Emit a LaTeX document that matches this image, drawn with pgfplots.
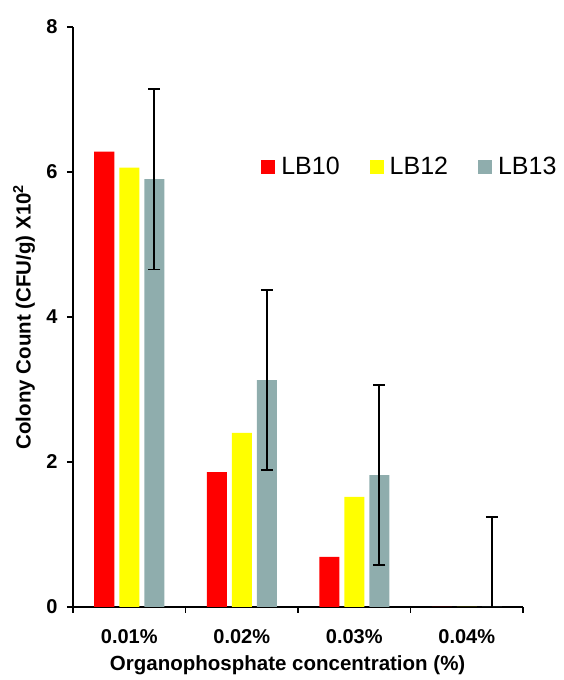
\documentclass[border=0pt]{standalone}
\usepackage{pgfplots}
\pgfplotsset{compat=1.18}
\usepackage{fontspec}
\setmainfont{Liberation Sans}
\definecolor{cRed}{RGB}{255,0,0}
\definecolor{cYel}{RGB}{255,255,0}
\definecolor{cTeal}{RGB}{143,173,173}
\pgfplotsset{mylegend/.style={legend image code/.code={\fill[##1] (0pt,-7pt) rectangle (14pt,7pt);}}}
\begin{document}
\begin{tikzpicture}
\begin{axis}[
  scale only axis,
  width=450pt, height=580pt,
  xmin=-0.5, xmax=3.5, ymin=0, ymax=8,
  ybar=5pt, bar width=20pt,
  axis x line=bottom, axis y line=left,
  axis line style={line width=1.8pt, -},
  every tick/.style={line width=1.6pt, black},
  tick align=outside,
  major tick length=6pt,
  ytick={0,2,4,6,8},
  xtick={-0.5,0.5,1.5,2.5,3.5},
  xticklabels={},
  extra x ticks={0,1,2,3},
  extra x tick labels={0.01\%,0.02\%,0.03\%,0.04\%},
  extra x tick style={major tick length=0pt, tick style={draw=none}},
  /pgf/number format/assume math mode=true,
  ticklabel style={font=\fontsize{20}{22}\selectfont\bfseries},
  yticklabel style={xshift=-6pt},
  xticklabel style={yshift=-19pt},
  xlabel={Organophosphate concentration (\%)},
  ylabel={Colony Count (CFU/g) X10\textsuperscript{2}},
  every axis x label/.style={at={(axis description cs:0.477,-0.101)}, anchor=center,
    font=\fontsize{20.5}{22}\selectfont\bfseries},
  every axis y label/.style={at={(axis description cs:-0.109,0.5)}, anchor=center, rotate=90,
    font=\fontsize{20.5}{22}\selectfont\bfseries},
  legend columns=3,
  legend style={draw=none, fill=none, inner sep=0pt,
    font=\fontsize{25}{27}\selectfont,
    at={(axis description cs:0.418,0.7586)}, anchor=west,
    /tikz/every odd column/.append style={column sep=4pt},
    /tikz/every even column/.append style={column sep=28pt}},
]
\addplot[fill=cRed, draw=none, mylegend] coordinates {(0,6.28) (1,1.86) (2,0.69) (3,0)};
\addplot[fill=cYel, draw=none, mylegend] coordinates {(0,6.06) (1,2.40) (2,1.52) (3,0)};
\addplot[fill=cTeal, draw=none, mylegend,
  error bars/.cd, y dir=both, y explicit,
  error bar style={line width=1.7pt, black},
  error mark options={rotate=90, line width=1.7pt, black, mark size=6pt}]
  coordinates {(0,5.90) +- (0,1.245) (1,3.13) +- (0,1.24) (2,1.82) +- (0,1.245) (3,0) +- (0,1.24)};
\legend{LB10,LB12,LB13}
\end{axis}
\pgfresetboundingbox
\path (-73pt,-73pt) rectangle (491pt,607pt);
\end{tikzpicture}
\end{document}
